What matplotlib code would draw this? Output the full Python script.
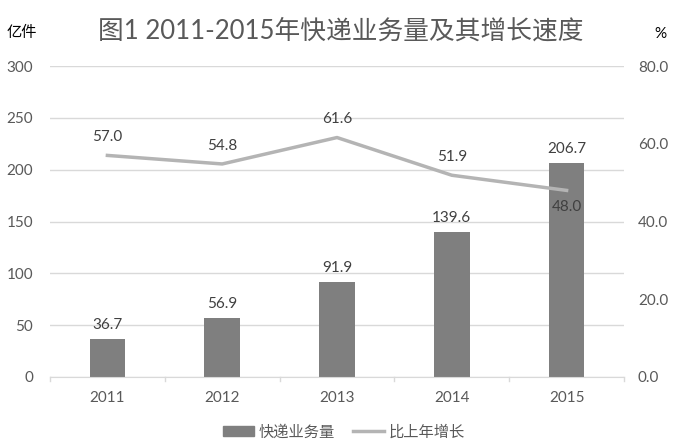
import matplotlib
matplotlib.use("Agg")
import matplotlib.pyplot as plt
from matplotlib.lines import Line2D
from matplotlib.patches import Patch

years = ["2011", "2012", "2013", "2014", "2015"]
volume = [36.7, 56.9, 91.9, 139.6, 206.7]
growth = [57.0, 54.8, 61.6, 51.9, 48.0]
left_ticks = [0, 50, 100, 150, 200, 250, 300]
right_ticks = [0, 20, 40, 60, 80]

FAM = ["Lato", "Noto Sans CJK SC", "DejaVu Sans"]
plt.rcParams["font.family"] = FAM
TXT = "#595959"

fig = plt.figure(figsize=(6.87, 4.47), dpi=100)
ax = fig.add_axes([50/687, 1-377/447, (624-50)/687, (377-66)/447])
x = list(range(len(years)))
ax.bar(x, volume, width=0.31, color="#7f7f7f", zorder=2)
ax.set_xlim(-0.5, 4.5)
ax.set_ylim(0, 300)
ax.set_yticks(left_ticks)
ax.set_xticks(x)
ax.set_xticklabels(years)
ax.grid(axis="y", color="#d9d9d9", linewidth=1, zorder=0)
for s in ["top", "right", "left"]:
    ax.spines[s].set_visible(False)
ax.spines["bottom"].set_color("#d9d9d9")
ax.tick_params(axis="y", length=0, labelsize=11, labelcolor=TXT, pad=12)
ax.tick_params(axis="x", length=0, labelsize=11, labelcolor=TXT, pad=10)
# category separator ticks
for b in [-0.5, 0.5, 1.5, 2.5, 3.5, 4.5]:
    ax.plot([b, b], [0, -4], color="#d9d9d9", lw=1, clip_on=False)
for i, v in enumerate(volume):
    ax.annotate(f"{v:.1f}", (i, v), xytext=(0, 5), textcoords="offset points",
                ha="center", va="bottom", fontsize=11, color="#404040")

ax2 = ax.twinx()
ax2.plot(x, growth, color="#b4b4b4", lw=2.5, zorder=3)
ax2.set_ylim(0, 80)
ax2.set_yticks(right_ticks)
ax2.set_yticklabels([f"{t:.1f}" for t in right_ticks])
for s in ["top", "right", "left", "bottom"]:
    ax2.spines[s].set_visible(False)
ax2.tick_params(axis="y", length=0, labelsize=11, labelcolor=TXT, pad=10)
for i, g in enumerate(growth):
    if i == len(growth) - 1:
        ax2.annotate(f"{g:.1f}", (i, g), xytext=(0, -7), textcoords="offset points",
                     ha="center", va="top", fontsize=11, color="#404040")
    else:
        ax2.annotate(f"{g:.1f}", (i, g), xytext=(0, 8), textcoords="offset points",
                     ha="center", va="bottom", fontsize=11, color="#404040")

fig.text(341/687, 1-31/447, "图1 2011-2015年快递业务量及其增长速度", ha="center", va="center",
         fontsize=18.5, color=TXT)
fig.text(22/687, 1-33/447, "亿件", ha="center", va="center", fontsize=11, color="black")
fig.text(660/687, 1-34/447, "%", ha="center", va="center", fontsize=11, color="black")

handles = [Patch(color="#7f7f7f"), Line2D([0], [0], color="#b4b4b4", lw=2.5)]
fig.legend(handles, ["快递业务量", "比上年增长"], loc="center", bbox_to_anchor=(344/687, 1-432/447),
           ncol=2, frameon=False, fontsize=11, labelcolor=TXT, handlelength=2.0,
           handleheight=0.7, handletextpad=0.3, columnspacing=1.2)

fig.savefig("out.png", dpi=100)
